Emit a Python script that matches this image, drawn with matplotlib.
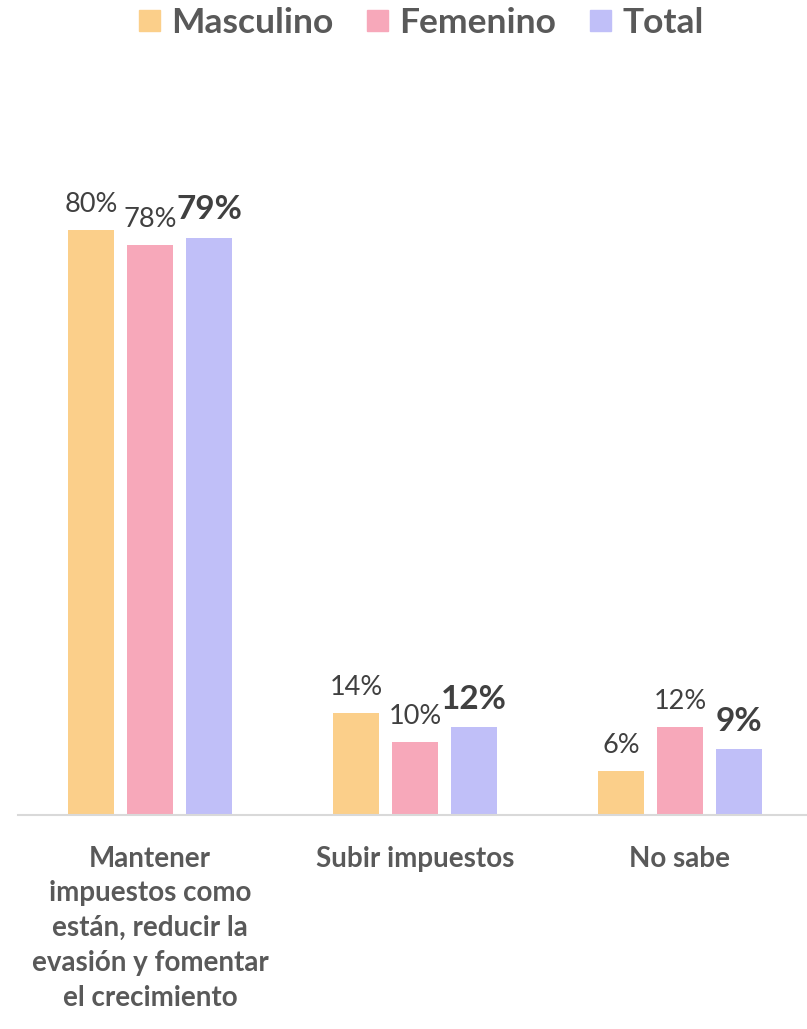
import numpy as np
import matplotlib
matplotlib.use("Agg")
import matplotlib.pyplot as plt
from matplotlib.patches import Patch

categories = ["Mantener\nimpuestos como\nestán, reducir la\nevasión y fomentar\nel crecimiento",
              "Subir impuestos",
              "No sabe"]
series_names = ["Masculino", "Femenino", "Total"]
masculino = [80, 14, 6]
femenino = [78, 10, 12]
total = [79, 12, 9]
colors = ["#FBCF8A", "#F7A8BA", "#C0BFF8"]

plt.rcParams["font.family"] = ["Lato", "DejaVu Sans"]

fig = plt.figure(figsize=(8.07, 10.29), dpi=100)
# axes: baseline at 815 px, one category = 265 px
ax = fig.add_axes([17.5 / 807, 1 - 815 / 1029, 795 / 807, 731 / 1029])

x = np.arange(len(categories))
width = 46 / 265
step = 59 / 265
for i, (name, vals) in enumerate(zip(series_names, [masculino, femenino, total])):
    pos = x + (i - 1) * step
    ax.bar(pos, vals, width, color=colors[i], label=name)
    for xb, v in zip(pos, vals):
        if name == "Total":
            ax.text(xb, v + 1.8, f"{v}%", ha="center", va="bottom",
                    fontsize=24, fontweight="bold", color="#404040")
        else:
            ax.text(xb, v + 1.8, f"{v}%", ha="center", va="bottom",
                    fontsize=19.5, color="#404040")

ax.set_xlim(-0.5, 2.5)
ax.set_ylim(0, 100)
ax.set_yticks([])
ax.set_xticks(x)
ax.set_xticklabels(categories, fontsize=20, fontweight="bold", color="#595959",
                   linespacing=1.42, va="top")
ax.tick_params(axis="x", length=0, pad=22)
for s in ["top", "right", "left"]:
    ax.spines[s].set_visible(False)
ax.spines["bottom"].set_color("#D9D9D9")
ax.spines["bottom"].set_linewidth(1.5)

handles = [Patch(color=c, label=n) for c, n in zip(colors, series_names)]
leg = fig.legend(handles=handles, loc="center", bbox_to_anchor=(421.5 / 807, 1 - 23 / 1029),
                 ncol=3, frameon=False, handlelength=0.59, handleheight=0.56,
                 handletextpad=0.32, columnspacing=0.95, borderpad=0,
                 prop={"size": 25.5, "weight": "bold"})
for t in leg.get_texts():
    t.set_color("#595959")

fig.savefig("out.png", dpi=100)
